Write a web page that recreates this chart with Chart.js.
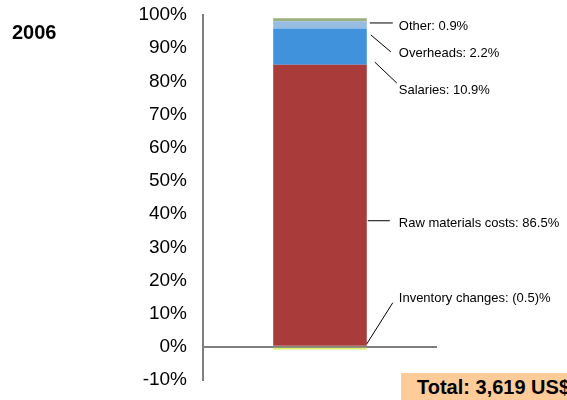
<!DOCTYPE html>
<html>
<head>
<meta charset="utf-8">
<script src="https://cdn.jsdelivr.net/npm/chart.js@4/dist/chart.umd.min.js"></script>
<style>
	html, body { margin: 0; padding: 0; background: #fff; overflow: hidden; }
	#wrap { position: relative; width: 567px; height: 400px; overflow: hidden; }
	#year {
		position: absolute; left: 12px; top: 21px;
		font: bold 20px "Liberation Sans", Arial, sans-serif; color: #000;
	}
	#total {
		position: absolute; left: 401px; top: 373px; width: 220px; height: 27px;
		background: #FFCC99; white-space: nowrap;
		font: bold 20px "Liberation Sans", Arial, sans-serif; color: #000;
		line-height: 28px; padding-left: 16px; box-sizing: border-box;
	}
</style>
</head>
<body>
<div id="wrap">
	<canvas id="chart" width="567" height="400"></canvas>
	<div id="year">2006</div>
	<div id="total">Total: 3,619 US$</div>
</div>
<script>
// === Data (cost structure 2006, % of total) ===
const categories = ["2006"];
const seriesNames = ["Inventory changes", "Raw materials costs", "Salaries", "Overheads", "Other"];
const seriesValues = [-0.8, 85.0, 10.9, 2.2, 0.9];
const seriesLabels = [
	"Inventory changes: (0.5)%",
	"Raw materials costs: 86.5%",
	"Salaries: 10.9%",
	"Overheads: 2.2%",
	"Other: 0.9%",
];
const seriesColors = ["#DDEE66", "#A93B3B", "#3F92DB", "#96BDE0", "#9BB07F"];
const yTicks = [-10, 0, 10, 20, 30, 40, 50, 60, 70, 80, 90, 100];

// === Leader lines + labels (in axis units, beside the bar) ===
const labelLayout = [
	{ from: 0.9, to: 13.3, text: 14.5, dx1: 0, dx2: 26 },  // inventory
	{ from: 38, to: 38, text: 37.3, dx1: 1, dx2: 23 },     // raw materials
	{ from: 85.8, to: 79.5, text: 77.4, dx1: 8, dx2: 30 }, // salaries
	{ from: 94, to: 88.9, text: 88.3, dx1: 4, dx2: 24 },   // overheads
	{ from: 97.6, to: 97.6, text: 96.7, dx1: 3, dx2: 26 }, // other
];

const leaderPlugin = {
	id: "leaders",
	afterDatasetsDraw(chart) {
		const ctx = chart.ctx;
		const y = chart.scales.y;
		const bar = chart.getDatasetMeta(1).data[0];
		const xR = bar.x + bar.width / 2;
		ctx.save();
		ctx.strokeStyle = "#000";
		ctx.lineWidth = 1;
		ctx.fillStyle = "#000";
		ctx.font = "13px 'Liberation Sans', Arial, sans-serif";
		ctx.textBaseline = "middle";
		labelLayout.forEach((l, i) => {
			ctx.beginPath();
			ctx.moveTo(xR + l.dx1, y.getPixelForValue(l.from));
			ctx.lineTo(xR + l.dx2, y.getPixelForValue(l.to));
			ctx.stroke();
			ctx.fillText(seriesLabels[i], xR + 32, y.getPixelForValue(l.text));
		});
		ctx.restore();
	},
};

new Chart(document.getElementById("chart"), {
	type: "bar",
	data: {
		labels: categories,
		datasets: seriesNames.map((name, i) => ({
			label: name,
			data: [seriesValues[i]],
			backgroundColor: seriesColors[i],
			borderWidth: 0,
			categoryPercentage: 1,
			barPercentage: 0.4,
		})),
	},
	options: {
		responsive: false,
		animation: false,
		layout: { padding: { top: 15, bottom: 20, right: 130, left: 0 } },
		plugins: { legend: { display: false }, tooltip: { enabled: false } },
		scales: {
			x: { stacked: true, display: false },
			y: {
				stacked: true,
				min: -10,
				max: 100,
				afterBuildTicks: (s) => { s.ticks = yTicks.map((v) => ({ value: v })); },
				afterFit: (s) => {
					s.width = 203;
					s.paddingTop = 0;
					s.paddingBottom = 0;
				},
				border: { display: true, color: "#7f7f7f", width: 2 },
				grid: {
					drawTicks: false,
					lineWidth: 2,
					color: (c) => (c.tick && c.tick.value === 0 ? "#7f7f7f" : "rgba(0,0,0,0)"),
				},
				ticks: {
					padding: 16,
					color: "#000",
					font: { family: "'Liberation Sans', Arial, sans-serif", size: 19 },
					callback: (v) => v + "%",
				},
			},
		},
	},
	plugins: [leaderPlugin],
});
</script>
</body>
</html>
